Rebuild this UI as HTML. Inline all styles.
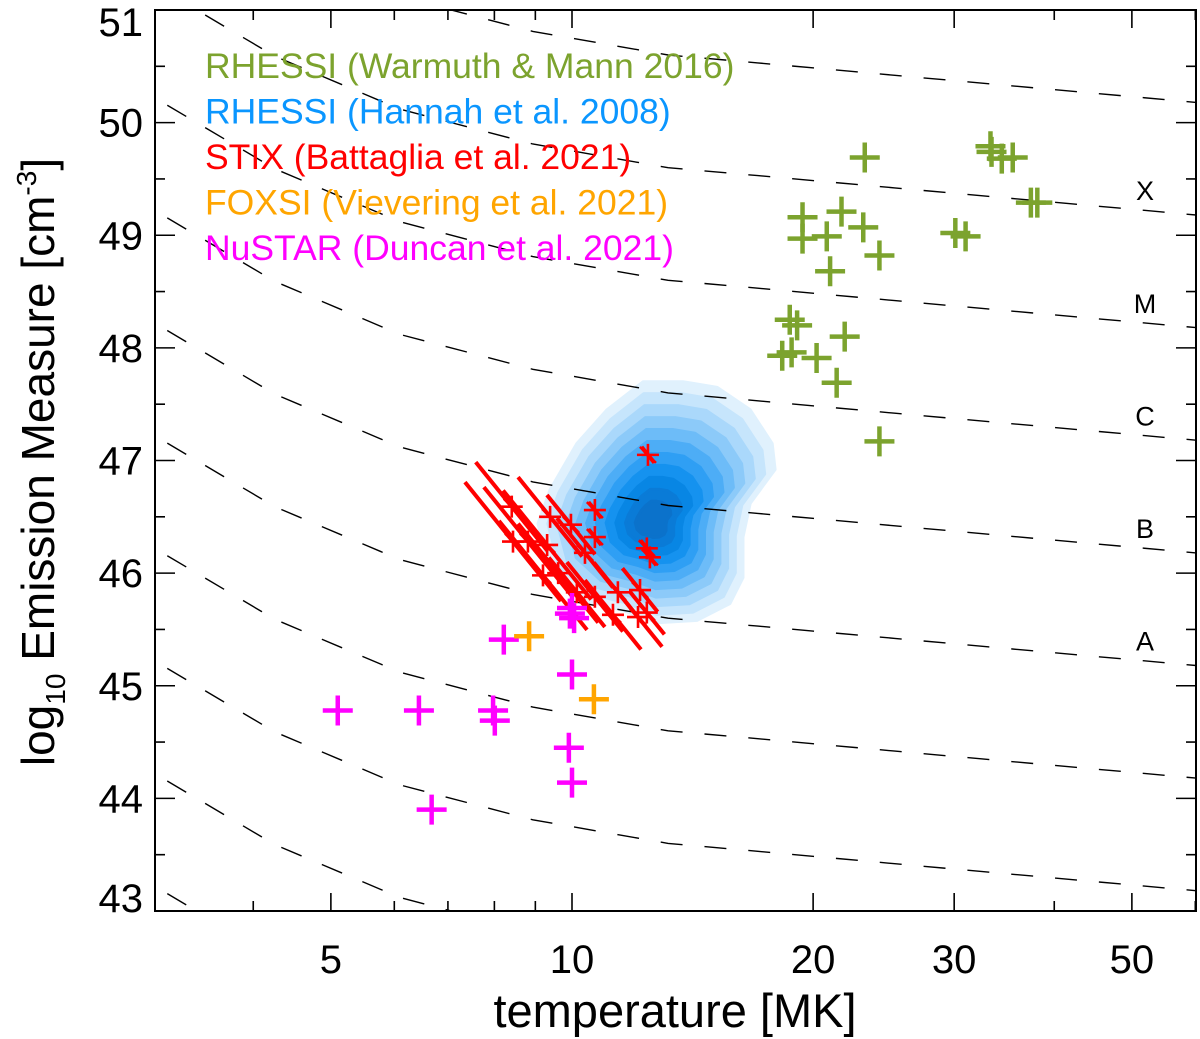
<!DOCTYPE html>
<html><head><meta charset="utf-8"><style>
html,body{margin:0;padding:0;background:#fff;overflow:hidden;width:1200px;height:1039px;}
svg{display:block;font-family:"Liberation Sans",Arial,sans-serif;}
</style></head><body>
<svg id="chart" width="1200" height="1039" viewBox="0 0 1200 1039"></svg>
<script>
// ---- data ----
const xTickValues=[5,10,20,30,50];
const xMinorValues=[4,6,7,8,9,40,60];
const yTickValues=[43,44,45,46,47,48,49,50,51];
const classLabels=['X','M','C','B','A'];
const classOffsets=[3,2,1,0,-1];
const curveOffsets=[-5,-4,-3,-2,-1,0,1,2,3,4];
const curveLogT=[0.40,0.479,0.629,0.785,0.951,1.120,1.232,1.403,1.779,1.85];
const curveEM=[48.55,48.22,47.59,47.12,46.81,46.60,46.53,46.42,46.18,46.14];
const greenT=[23.2,33.3,33.4,34.4,35.5,37.4,38.1,19.4,19.4,20.8,21.7,23.1,24.2,21.0,30.1,31.0,18.7,19.1,18.3,18.8,21.9,20.2,21.4,24.2];
const greenEM=[49.69,49.79,49.74,49.68,49.69,49.29,49.29,49.16,48.97,48.99,49.21,49.07,48.82,48.68,49.02,48.99,48.25,48.20,47.93,47.96,48.10,47.91,47.69,47.17];
const magentaT=[5.10,6.44,7.97,8.01,8.22,10.0,10.06,9.94,10.0,9.91,10.0,6.68];
const magentaEM=[44.78,44.78,44.78,44.69,45.41,45.69,45.60,45.64,45.10,44.45,44.14,43.90];
const orangeT=[8.84,10.65];
const orangeEM=[45.44,44.88];
const redT=[12.44,10.68,10.68,12.40,12.51,8.41,9.39,9.97,8.44,8.81,9.31,10.38,9.20,9.61,10.14,10.68,11.41,12.16,11.25,12.09,12.40];
const redEM=[47.05,46.56,46.32,46.22,46.14,46.59,46.50,46.43,46.28,46.28,46.25,46.18,45.98,46.00,45.83,45.79,45.83,45.85,45.63,45.61,45.65];
const redErr=[0.008,0.008,0.008,0.008,0.008,0.045,0.04,0.03,0.06,0.055,0.055,0.035,0.055,0.05,0.035,0.035,0.03,0.022,0.035,0.03,0.022];
const blobT=[13.76,15.17,16.69,17.78,17.93,16.69,16.35,16.35,15.75,14.32,12.77,11.58,10.32,9.39,9.07,9.39,10.14,11.06,12.27];
const blobEM=[47.70,47.65,47.45,47.15,46.92,46.62,46.32,45.96,45.73,45.58,45.56,45.67,45.76,46.03,46.44,46.74,47.15,47.45,47.70];
const blobCenterT=12.6, blobCenterEM=46.45;
const blobColors=['#e0f1fd','#c6e5fc','#aad8fb','#8ccaf9','#6dbcf8','#4dadf6','#2f9ff4','#1592ef','#0886e4','#0a7bd7','#0b72cb'];

// ---- axes ----
const L=155,R=1196,T0=10,B=911;
const x=t=>572+801*(Math.log10(t)-1);
const xl=lt=>572+801*(lt-1);
const y=em=>T0+(51-em)*(B-T0)/8;
const NS='http://www.w3.org/2000/svg';
const svg=document.getElementById('chart');
function mk(tag,attrs,parent){const e=document.createElementNS(NS,tag);for(const k in attrs)e.setAttribute(k,attrs[k]);(parent||svg).appendChild(e);return e;}

const defs=mk('defs',{});
const cp=mk('clipPath',{id:'plotclip'},defs);
mk('rect',{x:L,y:T0,width:R-L,height:B-T0},cp);
const plot=mk('g',{'clip-path':'url(#plotclip)'});



// blob contours
const blobG=mk('g',{},plot);


const cx=Math.log10(blobCenterT), cy=blobCenterEM;
blobColors.forEach((c,i)=>{
  const s=1-i*0.085;
  const pts=blobT.map((t,j)=>{const lt=cx+(Math.log10(t)-cx)*s;const em=cy+(blobEM[j]-cy)*s;return xl(lt).toFixed(1)+','+y(em).toFixed(1);}).join(' ');
  const p=mk('polygon',{points:pts,fill:c,stroke:c,'stroke-width':3,'stroke-linejoin':'round'},blobG);
  
  
});

// GOES curves
const curvesG=mk('g',{},plot);


curveOffsets.forEach(o=>{
  const d=curveLogT.map((lt,i)=>(i?'L':'M')+xl(lt).toFixed(1)+','+y(curveEM[i]+o).toFixed(1)).join(' ');
  const p=mk('path',{d:d,fill:'none',stroke:'#000','stroke-width':1.4,'stroke-dasharray':'22,22'},curvesG);
  
  
});

// red STIX
const redG=mk('g',{},plot);


redT.forEach((t,i)=>{
  const lt=Math.log10(t),e=redErr[i];
  const ln=mk('line',{x1:xl(lt-e),y1:y(redEM[i]+8.8*e),x2:xl(lt+e),y2:y(redEM[i]-8.8*e),stroke:'#ff0000','stroke-width':4},redG);
  
  
  const px=x(t),py=y(redEM[i]),s=11,d=8;
  const m=mk('path',{d:`M${px-s},${py}H${px+s}M${px},${py-s}V${py+s}M${px-d},${py-d}L${px+d},${py+d}`,stroke:'#ff0000','stroke-width':2.6,fill:'none'},redG);
  
  
});

function plus(g,tArr,emArr,color,name){
  tArr.forEach((t,i)=>{
    const px=x(t),py=y(emArr[i]),s=15;
    const m=mk('path',{d:`M${px-s},${py}H${px+s}M${px},${py-s}V${py+s}`,stroke:color,'stroke-width':4.5,fill:'none'},g);
    
    
  });
}
const gG=mk('g',{},plot);
plus(gG,greenT,greenEM,'#7ca32e','rhessi-warmuth-point');
const mG=mk('g',{},plot);
plus(mG,magentaT,magentaEM,'#ff00ff','nustar-point');
const oG=mk('g',{},plot);
plus(oG,orangeT,orangeEM,'#ffa500','foxsi-point');

// class labels
classLabels.forEach((c,i)=>{
  const t=mk('text',{x:1145,y:y(46.4+classOffsets[i])+10,'font-size':27,'text-anchor':'middle',fill:'#000'});
  t.textContent=c;
  
  
});

// legend
const legendItems=['RHESSI (Warmuth & Mann 2016)','RHESSI (Hannah et al. 2008)','STIX (Battaglia et al. 2021)','FOXSI (Vievering et al. 2021)','NuSTAR (Duncan et al. 2021)'];
const legendColors=['#7ca32e','#0a96ff','#ff0000','#ffa500','#ff00ff'];
const legG=mk('g',{});
legendItems.forEach((s,i)=>{
  const t=mk('text',{x:205,y:78+i*45.5,'font-size':35.5,fill:legendColors[i]},legG);
  t.textContent=s;
  
  
});

// frame & ticks
const frame=mk('rect',{x:L,y:T0,width:R-L,height:B-T0,fill:'none',stroke:'#000','stroke-width':2});

const tk=mk('g',{stroke:'#000','stroke-width':1.6});

xTickValues.concat(xMinorValues).forEach(v=>{
  const px=x(v);if(px<L||px>R)return;
  const len=xTickValues.includes(v)?18:10;
  mk('line',{x1:px,y1:B,x2:px,y2:B-len},tk);
  mk('line',{x1:px,y1:T0,x2:px,y2:T0+len},tk);
});
for(let v=43;v<=51;v+=0.5){
  const len=Number.isInteger(v)?20:10;
  mk('line',{x1:L,y1:y(v),x2:L+len,y2:y(v)},tk);
  mk('line',{x1:R,y1:y(v),x2:R-len,y2:y(v)},tk);
}
xTickValues.forEach(v=>{
  const t=mk('text',{x:x(v),y:973,'font-size':40,'text-anchor':'middle',fill:'#000'});
  t.textContent=v;
  
  
});
yTickValues.forEach(v=>{
  const t=mk('text',{x:143,y:Math.min(Math.max(y(v)+14,36),912),'font-size':40,'text-anchor':'end',fill:'#000'});
  t.textContent=v;
  
  
});
const xt=mk('text',{x:675,y:1027,'font-size':47,'text-anchor':'middle',fill:'#000'});
xt.textContent='temperature [MK]';

const yt=mk('text',{x:0,y:0,'font-size':46,'text-anchor':'middle',fill:'#000',transform:'translate(54,462) rotate(-90)'});

yt.innerHTML='log<tspan font-size="28" dy="11">10</tspan><tspan dy="-11"> Emission Measure [cm</tspan><tspan font-size="28" dy="-18">-3</tspan><tspan dy="18">]</tspan>';
</script>
</body></html>
